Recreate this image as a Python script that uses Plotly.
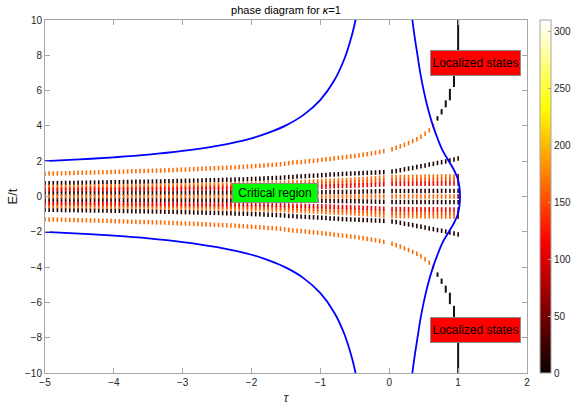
import numpy as np
import plotly.graph_objects as go

# ---------------- data ----------------
# tau columns of the spectrum scan (step 0.06 from -5 to 1)
tau = np.round(np.arange(101) * 0.06 - 5.0, 2)

# outermost (extended) eigenvalue branch, +/- symmetric, columns 0..94
edge = [1.29, 1.30, 1.30, 1.31, 1.31, 1.32, 1.33, 1.33, 1.34, 1.34,
        1.35, 1.36, 1.36, 1.37, 1.37, 1.38, 1.39, 1.40, 1.40, 1.41,
        1.42, 1.43, 1.43, 1.44, 1.44, 1.45, 1.46, 1.47, 1.47, 1.48,
        1.49, 1.50, 1.51, 1.52, 1.53, 1.54, 1.55, 1.56, 1.57, 1.58,
        1.59, 1.60, 1.61, 1.62, 1.63, 1.64, 1.65, 1.67, 1.68, 1.70,
        1.71, 1.73, 1.74, 1.76, 1.78, 1.79, 1.81, 1.83, 1.86, 1.89,
        1.92, 1.94, 1.96, 1.98, 2.01, 2.03, 2.05, 2.08, 2.11, 2.13,
        2.16, 2.19, 2.21, 2.24, 2.27, 2.30, 2.33, 2.36, 2.40, 2.44,
        2.48, 2.52, 2.57, None, 2.68, 2.76, 2.84, 2.93, 3.03, 3.14,
        3.25, 3.38, 3.55, 3.75, 4.00]

# second (dark) branch
e2 = [0.75, 0.75, 0.75, 0.76, 0.76, 0.77, 0.77, 0.77, 0.78, 0.78,
      0.78, 0.79, 0.79, 0.79, 0.80, 0.80, 0.81, 0.81, 0.81, 0.82,
      0.82, 0.83, 0.83, 0.84, 0.84, 0.84, 0.85, 0.85, 0.85, 0.86,
      0.86, 0.87, 0.88, 0.88, 0.89, 0.89, 0.90, 0.90, 0.91, 0.92,
      0.92, 0.93, 0.93, 0.94, 0.95, 0.95, 0.96, 0.97, 0.97, 0.98,
      0.99, 1.00, 1.01, 1.02, 1.03, 1.04, 1.05, 1.06, 1.08, 1.10,
      1.11, 1.13, 1.14, 1.15, 1.17, 1.18, 1.19, 1.21, 1.22, 1.24,
      1.25, 1.26, 1.28, 1.29, 1.30, 1.31, 1.32, 1.33, 1.34, 1.35,
      1.36, 1.37, 1.38, None, 1.41, 1.45, 1.49, 1.54, 1.58, 1.62,
      1.67, 1.72, 1.76, 1.81, 1.85, 1.90, 1.94, 1.99, 2.04, 2.09,
      2.15]

# top of the inner dense band
band = [0.54, 0.55, 0.55, 0.55, 0.55, 0.55, 0.56, 0.56, 0.56, 0.56,
        0.57, 0.57, 0.57, 0.58, 0.58, 0.58, 0.58, 0.59, 0.59, 0.59,
        0.60, 0.60, 0.60, 0.60, 0.61, 0.61, 0.61, 0.62, 0.62, 0.62,
        0.63, 0.63, 0.63, 0.64, 0.64, 0.65, 0.65, 0.66, 0.66, 0.66,
        0.67, 0.67, 0.68, 0.68, 0.68, 0.69, 0.69, 0.70, 0.71, 0.71,
        0.72, 0.73, 0.73, 0.74, 0.75, 0.75, 0.76, 0.77, 0.78, 0.79,
        0.81, 0.81, 0.82, 0.83, 0.84, 0.85, 0.86, 0.87, 0.89, 0.89,
        0.91, 0.92, 0.93, 0.94, 0.95, 0.97, 0.98, 0.99, 1.01, 1.02,
        1.04, 1.06, 1.08, None, 1.10, 1.10, 1.11, 1.11, 1.11, 1.12,
        1.12, 1.12, 1.13, 1.13, 1.13, 1.13, 1.14, 1.14, 1.14, 1.14,
        1.15]

# relative level positions inside the band and their colour values
band_levels = [1.00, 0.82, 0.64, 0.28, 0.0]
band_values = [165, 150, 110, 12, 160]
edge_value = 165
e2_value = 10

# localized states: vertical eigenvalue clusters near tau = 1
loc_tau = [0.70, 0.76, 0.82, 0.88, 0.94, 1.00]
loc_lo = [4.30, 4.65, 5.05, 5.45, 6.20, 8.30]
loc_hi = [4.55, 4.95, 5.45, 6.10, 7.40, 11.0]

left_tau = [-5.0, -4.5, -4.0, -3.5, -3.0, -2.5, -2.0, -1.75, -1.5, -1.25,
            -1.0, -0.8, -0.65, -0.55, -0.49, -0.45]
left_E = [2.0, 2.1, 2.22, 2.37, 2.58, 2.87, 3.3, 3.62, 4.03, 4.61,
          5.48, 6.57, 7.82, 9.04, 10.0, 10.8]
right_E = [10.5, 10.0, 9.0, 8.0, 7.0, 6.0, 5.0, 4.0, 3.2, 2.6, 2.0, 1.5,
           1.0, 0.5, 0.0]
right_tau = [0.32, 0.335, 0.37, 0.41, 0.45, 0.50, 0.56, 0.635, 0.71, 0.775,
             0.865, 0.94, 0.995, 1.02, 1.028]

cmax = 310
hot = [[0.0, "rgb(10,0,0)"], [0.375, "rgb(255,0,0)"],
       [0.75, "rgb(255,255,0)"], [1.0, "rgb(255,255,255)"]]

# ---------------- build scatter points ----------------
px, py, pv = [], [], []
for k, t in enumerate(tau):
    if e2[k] is None:
        continue
    if k < len(edge):
        for sgn in (1, -1):
            px.append(t); py.append(sgn * edge[k]); pv.append(edge_value)
    for sgn in (1, -1):
        px.append(t); py.append(sgn * e2[k]); pv.append(e2_value)
    dim = 0.3 if k == len(tau) - 1 else 1.0
    for lev, val in zip(band_levels, band_values):
        signs = (1,) if lev == 0 else (1, -1)
        for sgn in signs:
            px.append(t); py.append(sgn * lev * band[k]); pv.append(val * dim)

fig = go.Figure()

# localized clusters as vertical dashes
lx, ly = [], []
for t, lo, hi in zip(loc_tau, loc_lo, loc_hi):
    for sgn in (1, -1):
        lx += [t, t, None]
        ly += [sgn * lo, sgn * hi, None]
fig.add_trace(go.Scatter(x=lx, y=ly, mode="lines",
                         line=dict(color="#111111", width=2),
                         showlegend=False, hoverinfo="skip"))

fig.add_trace(go.Scatter(
    x=px, y=py, mode="markers", showlegend=False,
    marker=dict(symbol="line-ns", size=3.2,
                line=dict(width=1.6, color=pv, colorscale=hot,
                          cmin=0, cmax=cmax))))

# phase boundaries
blue = dict(color="#0000ff", width=1.8, shape="spline")
fig.add_trace(go.Scatter(x=left_tau, y=left_E, mode="lines", line=blue,
                         showlegend=False))
fig.add_trace(go.Scatter(x=left_tau, y=[-e for e in left_E], mode="lines",
                         line=blue, showlegend=False))
fig.add_trace(go.Scatter(x=right_tau + right_tau[-2::-1],
                         y=right_E + [-e for e in right_E[-2::-1]],
                         mode="lines", line=blue, showlegend=False))

# colour bar carrier
fig.add_trace(go.Scatter(
    x=[-20, -20], y=[0, 0], mode="markers", showlegend=False,
    marker=dict(color=[0, cmax], colorscale=hot, cmin=0, cmax=cmax,
                showscale=True,
                colorbar=dict(x=1.027, xanchor="left", xref="paper",
                              y=0.5, yanchor="middle", len=1.0,
                              lenmode="fraction", thickness=11,
                              xpad=0, ypad=0, outlinewidth=1,
                              outlinecolor="#a6a6a6",
                              tickvals=[0, 50, 100, 150, 200, 250, 300],
                              ticks="inside", ticklen=3,
                              tickcolor="#a6a6a6",
                              tickfont=dict(size=10, color="#262626")))))

font_family = "Liberation Sans, Arial, sans-serif"

def box(text, x, y, bg, w, h):
    fig.add_annotation(x=x, y=y, xref="x", yref="y", text=text,
                       showarrow=False, bgcolor=bg, bordercolor="#8c8c8c",
                       borderwidth=1, borderpad=0, width=w, height=h,
                       font=dict(size=12, color="black", family=font_family))

box("Critical region", -1.66, 0.2, "#00ff00", 84, 18)
box("Localized states", 1.248, 7.59, "#ff0000", 89, 24)
box("Localized states", 1.248, -7.59, "#ff0000", 89, 24)

axis_common = dict(showline=True, linecolor="#a6a6a6", linewidth=1,
                   mirror="ticks", ticks="inside", ticklen=5,
                   tickcolor="#a6a6a6", showgrid=False, zeroline=False,
                   tickfont=dict(size=10, color="#262626"))

fig.update_xaxes(range=[-5, 2], tickvals=[-5, -4, -3, -2, -1, 0, 1, 2],
                 title=dict(text="<i>τ</i>", font=dict(size=12, color="#262626"),
                            standoff=10),
                 **axis_common)
fig.update_yaxes(range=[-10, 10], tickvals=list(range(-10, 11, 2)),
                 title=dict(text="E/t", font=dict(size=13, color="#262626"),
                            standoff=4),
                 **axis_common)

fig.update_layout(
    width=573, height=405,
    margin=dict(l=45, r=46, t=20, b=32, autoexpand=False),
    paper_bgcolor="white", plot_bgcolor="white",
    font=dict(family=font_family, color="#262626"),
    title=dict(text="phase diagram for <i>κ</i>=1", x=0.5, xanchor="center",
               xref="paper", y=0.975, yanchor="middle",
               font=dict(size=11, color="black")),
)

fig.write_html("out.html")
